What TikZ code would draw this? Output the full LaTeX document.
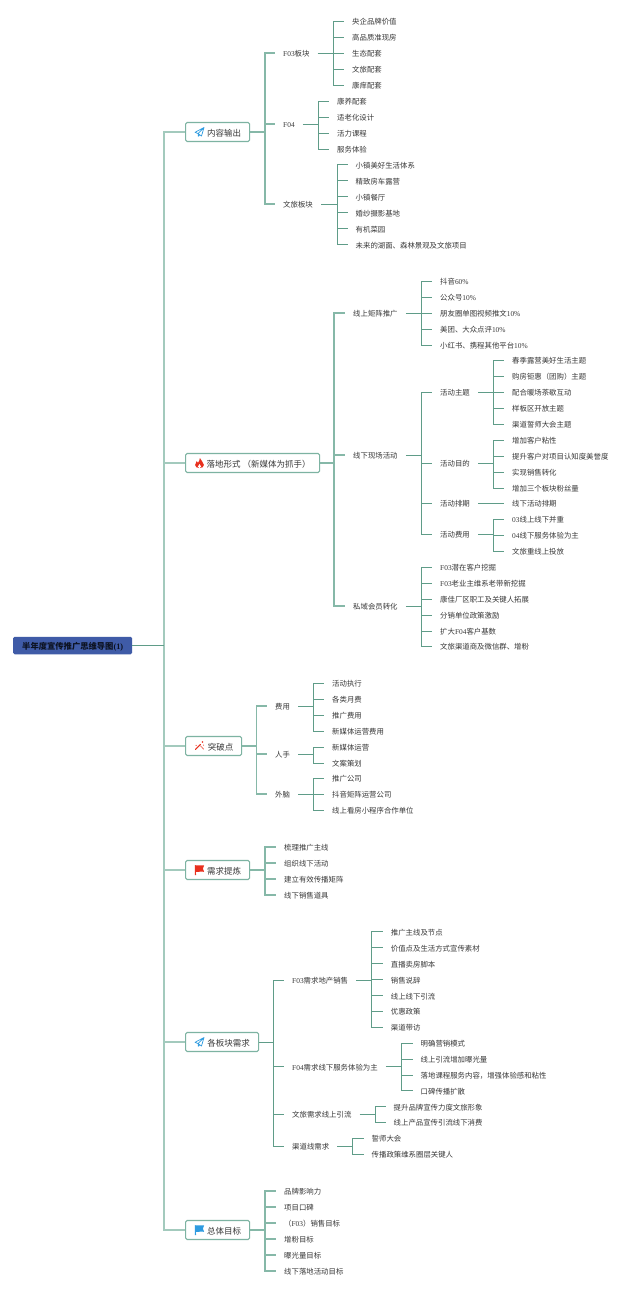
\documentclass[tikz,border=0pt]{standalone}
\usepackage{fontspec}
\setmainfont{Liberation Serif}
\newfontfamily\cjk{Noto Sans CJK SC}
\definecolor{lineA}{HTML}{A3CABD}
\definecolor{lineB}{HTML}{86B8A8}
\definecolor{lineC}{HTML}{5F9C88}
\definecolor{boxline}{HTML}{7DB3A2}
\definecolor{rootfill}{HTML}{3F5BA7}
\definecolor{txt}{HTML}{383838}
\definecolor{iconred}{HTML}{E8301E}
\definecolor{iconblue}{HTML}{2E9BE0}
\newcommand\lat[1]{{\rmfamily #1}}
\tikzset{
  x=1pt,y=-1pt,
  tnode/.style={anchor=west,inner xsep=8pt,inner ysep=0pt,text height=8pt,text depth=0.8pt,text=txt,font=\cjk\fontsize{7.4}{9}\selectfont},
  mainbox/.style={anchor=west,draw=boxline,line width=1.1pt,rounded corners=1.5pt,fill=white,inner xsep=0pt,inner ysep=0pt,text height=8.8pt,text depth=0.8pt,minimum height=19pt,text=txt,font=\cjk\fontsize{8.5}{10}\selectfont},
  rootbox/.style={anchor=west,fill=rootfill,rounded corners=1.5pt,inner sep=0pt,text height=8.6pt,text depth=0.8pt,minimum height=17.5pt,minimum width=119pt,text=black!80!rootfill,font=\cjk\bfseries\fontsize{8.3}{10}\selectfont},
  connA/.style={draw=lineA,line width=1.4pt},
  connB/.style={draw=lineB,line width=1.2pt},
  connC/.style={draw=lineC,line width=1pt},
}
\newcommand\tn[4]{\node[tnode] (#1) at (#2-8,#3) {#4};}
\newcommand\branch[4]{\foreach \c in {#4}{\draw[#1] (#2.east -| #3) |- (\c.west);}\draw[#1] (#2.east) -- (#2.east -| #3);}
\newcommand\planeicon[2]{\begin{scope}[shift={(#1,#2)}]
  \draw[iconblue,line width=0.7pt,line join=round] (4.5,-4.5) -- (-4.5,0.3) -- (-1.4,1.6) -- (4.5,-4.5) -- (2,4) -- (-1.4,1.6) -- (-1.2,4.2) -- (0.4,2.8);
  \end{scope}}
\newcommand\flagicon[3]{\begin{scope}[shift={(#2,#3)}]
  \fill[#1] (-4.6,-4.8) .. controls (-2,-3.6) and (1,-5.4) .. (4.6,-4.6) -- (3.4,-1.4) -- (4.6,1.8) .. controls (1,1) and (-2,2.4) .. (-3.6,2) -- (-3.4,5.2) -- (-4.6,5.2) -- cycle;
  \end{scope}}
\begin{document}
\begin{tikzpicture}
\useasboundingbox (0,0) rectangle (640,1291);
\fill[white] (0,0) rectangle (640,1291);
% buses
\coordinate (busRoot) at (164,0);
\coordinate (busA) at (265,0);
\coordinate (busAa) at (333.3,0);
\coordinate (busAb) at (318,0);
\coordinate (busAc) at (337,0);
\coordinate (busB) at (334,0);
\coordinate (busBa) at (421.7,0);
\coordinate (busBba) at (493,0);
\coordinate (busC) at (256.7,0);
\coordinate (busCa) at (313.5,0);
\coordinate (busD) at (265,0);
\coordinate (busE) at (273.3,0);
\coordinate (busEa) at (371.7,0);
\coordinate (busEb) at (401.7,0);
\coordinate (busEc) at (375,0);
\coordinate (busEd) at (352.7,0);
\coordinate (busF) at (265,0);
% root and main
\node[rootbox] (root) at (13,645.5) {半年度宣传推广思维导图\lat{(1)}};
\node[mainbox,minimum width=64pt] (A) at (185,132) {\hspace*{13pt}内容输出};
\node[mainbox,minimum width=134pt] (B) at (185,463) {\hspace*{12pt}落地形式 （新媒体为抓手）};
\node[mainbox,minimum width=56pt] (C) at (185,746) {\hspace*{14pt}突破点};
\node[mainbox,minimum width=64pt] (D) at (185,870) {\hspace*{13pt}需求提炼};
\node[mainbox,minimum width=73pt] (E) at (185,1042) {\hspace*{13pt}各板块需求};
\node[mainbox,minimum width=64pt] (F) at (185,1230) {\hspace*{13pt}总体目标};
% A
\tn{Aa}{283}{53}{\lat{F03}板块}
\tn{Ab}{283}{124}{\lat{F04}}
\tn{Ac}{283}{204}{文旅板块}
\tn{Aa1}{352}{21}{央企品牌价值}
\tn{Aa2}{352}{37}{高品质准现房}
\tn{Aa3}{352}{53}{生态配套}
\tn{Aa4}{352}{69}{文旅配套}
\tn{Aa5}{352}{85}{康痒配套}
\tn{Ab1}{337}{101}{康养配套}
\tn{Ab2}{337}{117}{适老化设计}
\tn{Ab3}{337}{133}{活力课程}
\tn{Ab4}{337}{149}{服务体验}
\tn{Ac1}{355.5}{164.5}{小镇美好生活体系}
\tn{Ac2}{355.5}{180.5}{精致房车露营}
\tn{Ac3}{355.5}{196.5}{小镇餐厅}
\tn{Ac4}{355.5}{212.5}{婚纱摄影基地}
\tn{Ac5}{355.5}{228.5}{有机菜园}
\tn{Ac6}{355.5}{244.5}{未来的湖面、森林景观及文旅项目}
% B
\tn{Ba}{353}{313}{线上矩阵推广}
\tn{Bb}{353}{455}{线下现场活动}
\tn{Bc}{353}{606}{私域会员转化}
\tn{Ba1}{440}{281}{抖音\lat{60\%}}
\tn{Ba2}{440}{297}{公众号\lat{10\%}}
\tn{Ba3}{440}{313}{朋友圈单图视频推文\lat{10\%}}
\tn{Ba4}{440}{329}{美团、大众点评\lat{10\%}}
\tn{Ba5}{440}{345}{小红书、携程其他平台\lat{10\%}}
\tn{Bba}{440}{392}{活动主题}
\tn{Bbb}{440}{463}{活动目的}
\tn{Bbc}{440}{503}{活动排期}
\tn{Bbd}{440}{534}{活动费用}
\tn{Bba1}{512}{360}{春季露营美好生活主题}
\tn{Bba2}{512}{376}{购房钜惠（团购）主题}
\tn{Bba3}{512}{392}{配合暖场茶歇互动}
\tn{Bba4}{512}{408}{样板区开放主题}
\tn{Bba5}{512}{424}{渠道誓师大会主题}
\tn{Bbb1}{512}{440}{增加客户粘性}
\tn{Bbb2}{512}{456}{提升客户对项目认知度美誉度}
\tn{Bbb3}{512}{472}{实现销售转化}
\tn{Bbb4}{512}{488}{增加三个板块粉丝量}
\tn{Bbc1}{512}{503}{线下活动排期}
\tn{Bbd1}{512}{519}{\lat{03}线上线下并重}
\tn{Bbd2}{512}{535}{\lat{04}线下服务体验为主}
\tn{Bbd3}{512}{551}{文旅重线上投放}
\tn{Bc1}{440}{567}{\lat{F03}潜在客户挖掘}
\tn{Bc2}{440}{583}{\lat{F03}老业主维系老带新挖掘}
\tn{Bc3}{440}{599}{康佳厂区职工及关键人拓展}
\tn{Bc4}{440}{615}{分销单位政策激励}
\tn{Bc5}{440}{631}{扩大\lat{F04}客户基数}
\tn{Bc6}{440}{646}{文旅渠道商及微信群、增粉}
% C
\tn{Ca}{275}{706}{费用}
\tn{Cb}{275}{754}{人手}
\tn{Cc}{275}{794}{外脑}
\tn{Ca1}{332}{683}{活动执行}
\tn{Ca2}{332}{699}{各类月费}
\tn{Ca3}{332}{715}{推广费用}
\tn{Ca4}{332}{731}{新媒体运营费用}
\tn{Cb1}{332}{747}{新媒体运营}
\tn{Cb2}{332}{763}{文案策划}
\tn{Cc1}{332}{778}{推广公司}
\tn{Cc2}{332}{794}{抖音矩阵运营公司}
\tn{Cc3}{332}{810}{线上看房小程序合作单位}
% D
\tn{D1}{284}{847}{梳理推广主线}
\tn{D2}{284}{863}{组织线下活动}
\tn{D3}{284}{879}{建立有效传播矩阵}
\tn{D4}{284}{895}{线下销售道具}
% E
\tn{Ea}{292}{980}{\lat{F03}需求地产销售}
\tn{Eb}{292}{1066.5}{\lat{F04}需求线下服务体验为主}
\tn{Ec}{292}{1114}{文旅需求线上引流}
\tn{Ed}{292}{1146}{渠道线需求}
\tn{Ea1}{390.7}{931.5}{推广主线及节点}
\tn{Ea2}{390.7}{947.5}{价值点及生活方式宣传素材}
\tn{Ea3}{390.7}{963.5}{直播卖房脚本}
\tn{Ea4}{390.7}{979.5}{销售说辞}
\tn{Ea5}{390.7}{995.5}{线上线下引流}
\tn{Ea6}{390.7}{1011}{优惠政策}
\tn{Ea7}{390.7}{1027}{渠道带访}
\tn{Eb1}{420.5}{1043}{明确营销模式}
\tn{Eb2}{420.5}{1059}{线上引流增加曝光量}
\tn{Eb3}{420.5}{1075}{落地课程服务内容，增强体验感和粘性}
\tn{Eb4}{420.5}{1090.5}{口碑传播扩散}
\tn{Ec1}{393.5}{1106.5}{提升品牌宣传力度文旅形象}
\tn{Ec2}{393.5}{1122}{线上产品宣传引流线下消费}
\tn{Ed1}{371.5}{1138}{誓师大会}
\tn{Ed2}{371.5}{1154}{传播政策维系圈层关键人}
% F
\tn{F1}{284}{1191}{品牌影响力}
\tn{F2}{284}{1207}{项目口碑}
\tn{F3}{284}{1223}{（\lat{F03}）销售目标}
\tn{F4}{284}{1239}{增粉目标}
\tn{F5}{284}{1255}{曝光量目标}
\tn{F6}{284}{1271}{线下落地活动目标}
% connectors
\foreach \c in {A,B,C,D,E,F}{\draw[connA] (root.east -| busRoot) |- (\c.west);}
\draw[connC] (root.east) -- (root.east -| busRoot);
\branch{connB}{A}{busA}{Aa,Ab,Ac}
\branch{connC}{Aa}{busAa}{Aa1,Aa2,Aa3,Aa4,Aa5}
\branch{connC}{Ab}{busAb}{Ab1,Ab2,Ab3,Ab4}
\branch{connC}{Ac}{busAc}{Ac1,Ac2,Ac3,Ac4,Ac5,Ac6}
\branch{connB}{B}{busB}{Ba,Bb,Bc}
\branch{connC}{Ba}{busBa}{Ba1,Ba2,Ba3,Ba4,Ba5}
\branch{connC}{Bb}{busBa}{Bba,Bbb,Bbc,Bbd}
\branch{connC}{Bc}{busBa}{Bc1,Bc2,Bc3,Bc4,Bc5,Bc6}
\branch{connC}{Bba}{busBba}{Bba1,Bba2,Bba3,Bba4,Bba5}
\branch{connC}{Bbb}{busBba}{Bbb1,Bbb2,Bbb3,Bbb4}
\branch{connC}{Bbc}{busBba}{Bbc1}
\branch{connC}{Bbd}{busBba}{Bbd1,Bbd2,Bbd3}
\branch{connB}{C}{busC}{Ca,Cb,Cc}
\branch{connC}{Ca}{busCa}{Ca1,Ca2,Ca3,Ca4}
\branch{connC}{Cb}{busCa}{Cb1,Cb2}
\branch{connC}{Cc}{busCa}{Cc1,Cc2,Cc3}
\branch{connB}{D}{busD}{D1,D2,D3,D4}
\branch{connC}{E}{busE}{Ea,Eb,Ec,Ed}
\branch{connC}{Ea}{busEa}{Ea1,Ea2,Ea3,Ea4,Ea5,Ea6,Ea7}
\branch{connC}{Eb}{busEb}{Eb1,Eb2,Eb3,Eb4}
\branch{connC}{Ec}{busEc}{Ec1,Ec2}
\branch{connC}{Ed}{busEd}{Ed1,Ed2}
\branch{connB}{F}{busF}{F1,F2,F3,F4,F5,F6}
% icons
\planeicon{199.5}{132}
\planeicon{199.5}{1042}
\begin{scope}[shift={(199.5,463)}]
  \fill[iconred] (0.4,-5) .. controls (1,-2.5) and (4.4,-1) .. (4.4,2) .. controls (4.4,4) and (2.5,5) .. (0,5) .. controls (-2.5,5) and (-4.4,4) .. (-4.4,2) .. controls (-4.4,0) and (-3.2,-0.8) .. (-2.8,-2) .. controls (-2,-1.2) and (-1.8,-0.8) .. (-1.6,-0.2) .. controls (-0.8,-1.4) and (0.6,-3) .. (0.4,-5) -- cycle;
  \fill[white] (0,1) .. controls (0.6,2) and (1.6,2.6) .. (1.6,3.6) .. controls (1.6,4.6) and (0.8,5) .. (0,5) .. controls (-0.8,5) and (-1.6,4.6) .. (-1.6,3.6) .. controls (-1.6,2.6) and (-0.4,2) .. (0,1) -- cycle;
\end{scope}
\begin{scope}[shift={(199.5,746)}]
  \draw[iconred,line width=1pt,line cap=round] (-4,3.4) -- (1,-1.6);
  \draw[iconred!70,line width=0.8pt,line cap=round] (1,-0.2) -- (4.2,3.2);
  \fill[iconred] (3,-4) circle (0.8);
  \fill[iconred] (-3.4,-0.6) circle (0.6);
  \fill[iconred] (4,-0.8) circle (0.5);
\end{scope}
\flagicon{iconred}{199.5}{870}
\flagicon{iconblue}{199.5}{1230}
\end{tikzpicture}
\end{document}
